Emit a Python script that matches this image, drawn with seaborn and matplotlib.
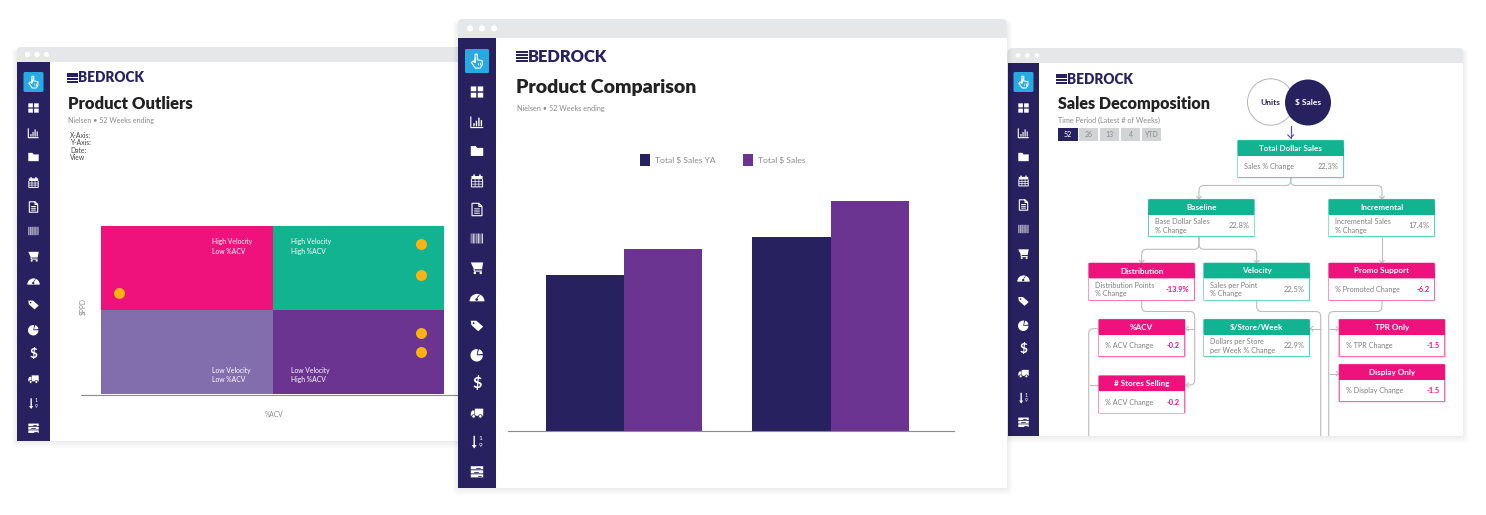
import numpy as np
import pandas as pd
import seaborn as sns
import matplotlib.pyplot as plt
from matplotlib.patches import Rectangle, FancyBboxPatch, Circle, Wedge, Polygon, PathPatch
from matplotlib.path import Path

# scatter of the outliers window
outlier_acv = [5.2, 93.4, 93.4, 93.4, 93.4]
outlier_ppd = [60, 89.3, 70.8, 36.3, 25]
quad_names = ['High Velocity\nLow %ACV', 'High Velocity\nHigh %ACV', 'Low Velocity\nLow %ACV', 'Low Velocity\nHigh %ACV']

# bars of the comparison window
products = ['A', 'B']
sales_ya = [156, 194]
sales_now = [182, 230]
series_names = ['Total $ Sales YA', 'Total $ Sales']

# decomposition tree
tree_heads = ['Total Dollar Sales', 'Baseline', 'Incremental', 'Distribution', 'Velocity', 'Promo Support',
              '%ACV', '$/Store/Week', 'TPR Only', '# Stores Selling', 'Display Only']
tree_labels = ['Sales % Change', 'Base Dollar Sales\n% Change', 'Incremental Sales\n% Change',
               'Distribution Points\n% Change', 'Sales per Point\n% Change', '% Promoted Change',
               '% ACV Change', 'Dollars per Store\nper Week % Change', '% TPR Change', '% ACV Change', '% Display Change']
tree_values = ['22.3%', '22.8%', '17.4%', '-13.9%', '22.5%', '-6.2', '-0.2', '22.9%', '-1.5', '-0.2', '-1.5']
week_buttons = ['52', '26', '13', '4', 'YTD']
filter_names = ['X-Axis:', 'Y-Axis:', 'Date:', 'View']

NAVY = '#27225F'
SKY = '#27AAE1'
PINK = '#F0127C'
TEAL = '#12B391'
LILAC = '#836EAD'
PURPLE = '#6B3491'
ORANGE = '#FFB313'
GREY = '#8a8a8a'
LINE = '#bcbcbc'
W, H = 1486, 515

sns.set_theme(style='white')
plt.rcParams['font.family'] = ['Lato', 'DejaVu Sans']

fig = plt.figure(figsize=(W / 100, H / 100), dpi=100, facecolor='white')
bg = fig.add_axes([0, 0, 1, 1])
bg.set_xlim(0, W)
bg.set_ylim(H, 0)
bg.axis('off')


def rect(x0, y0, x1, y1, c, z=1, **kw):
    bg.add_patch(Rectangle((x0, y0), x1 - x0, y1 - y0, fc=c, ec='none', zorder=z, **kw))


def rbox(x0, y0, x1, y1, c, z=1, r=4, **kw):
    bg.add_patch(FancyBboxPatch((x0, y0), x1 - x0, y1 - y0, boxstyle='round,pad=0,rounding_size=%s' % r,
                                fc=c, ec='none', zorder=z, **kw))


def icon(kind, cx, cy, s, z):
    # s is half the icon size in pixels
    def box(a, b, c, d):
        rect(cx + a * s, cy + b * s, cx + c * s, cy + d * s, 'white', z, snap=False)

    def ln(xs, ys, lw=0.8):
        bg.plot([cx + v * s for v in xs], [cy + v * s for v in ys], color='white', lw=lw, zorder=z,
                solid_capstyle='butt', snap=False)

    if kind == 'hand':
        ln([-0.3, -0.3, 0.05, 0.05, 0.85, 0.85, 0.5, -0.25, -0.9, -0.65, -0.3, -0.3],
           [0.25, -1.1, -1.1, -0.2, -0.05, 0.6, 1.15, 1.15, 0.25, 0.0, 0.25, -0.5], 0.8)
        for v in [0.25, 0.55]:
            ln([v, v], [0.3, 0.75], 0.5)
    elif kind == 'grid':
        for a, b in [(-1, -0.9), (0.12, -0.9), (-1, 0.12), (0.12, 0.12)]:
            box(a, b, a + 0.88, b + 0.78)
    elif kind == 'chart':
        ln([-1, -1, 1], [-0.9, 0.9, 0.9])
        for a, t in [(-0.6, 0.2), (-0.2, -0.2), (0.2, -0.7), (0.6, -0.3)]:
            box(a, t, a + 0.22, 0.7)
    elif kind == 'folder':
        bg.add_patch(Polygon([(cx - s, cy - 0.8 * s), (cx - 0.2 * s, cy - 0.8 * s), (cx, cy - 0.5 * s), (cx + s, cy - 0.5 * s),
                              (cx + s, cy + 0.8 * s), (cx - s, cy + 0.8 * s)], fc='white', ec='none', zorder=z))
    elif kind == 'calendar':
        box(-0.9, -0.8, 0.9, -0.3)
        box(-0.6, -1.05, -0.35, -0.6)
        box(0.35, -1.05, 0.6, -0.6)
        ln([-0.9, -0.9, 0.9, 0.9], [-0.3, 0.95, 0.95, -0.3], 0.7)
        for v in [-0.3, 0.3]:
            ln([v, v], [-0.3, 0.95], 0.5)
        for v in [0.1, 0.5]:
            ln([-0.9, 0.9], [v, v], 0.5)
    elif kind == 'doc':
        ln([0.3, -0.8, -0.8, 0.8, 0.8, 0.3, 0.3, 0.8], [-1, -1, 1, 1, -0.5, -1, -0.5, -0.5], 0.8)
        for v in [-0.1, 0.25, 0.6]:
            ln([-0.45, 0.45], [v, v], 0.7)
    elif kind == 'barcode':
        for a, wd in zip(np.arange(-1, 1, 0.2), [.1, .06, .14, .06, .12, .06, .14, .06, .1, .14]):
            box(a, -0.8, a + wd, 0.8)
    elif kind == 'cart':
        bg.add_patch(Polygon([(cx - s, cy - 0.9 * s), (cx + s, cy - 0.9 * s), (cx + 0.8 * s, cy + 0.2 * s), (cx - 0.5 * s, cy + 0.2 * s)],
                             fc='white', ec='none', zorder=z))
        ln([-0.5, -0.4, 0.8], [0.2, 0.5, 0.5])
        for a in [-0.35, 0.6]:
            bg.add_patch(Circle((cx + a * s, cy + 0.8 * s), 0.2 * s, fc='white', ec='none', zorder=z))
    elif kind == 'gauge':
        bg.add_patch(Wedge((cx, cy + 0.7 * s), 1.2 * s, 180, 360, fc='white', ec='none', zorder=z))
        bg.add_patch(Rectangle((cx - 0.05 * s, cy + 0.1 * s), 0.6 * s, 0.14 * s, angle=-50, fc=NAVY, ec='none', zorder=z + 0.1))
        bg.add_patch(Circle((cx - 0.05 * s, cy + 0.4 * s), 0.22 * s, fc=NAVY, ec='none', zorder=z + 0.1))
    elif kind == 'tags':
        bg.add_patch(Polygon([(cx - s, cy - 0.85 * s), (cx - 0.1 * s, cy - 0.85 * s), (cx + s, cy + 0.1 * s), (cx + 0.2 * s, cy + 0.85 * s),
                              (cx - 0.9 * s, cy - 0.15 * s)], fc='white', ec='none', zorder=z))
        bg.add_patch(Circle((cx - 0.55 * s, cy - 0.45 * s), 0.15 * s, fc=NAVY, ec='none', zorder=z + 0.1))
    elif kind == 'pie':
        bg.add_patch(Wedge((cx - 0.05 * s, cy + 0.05 * s), s, 0, 280, fc='white', ec='none', zorder=z))
        bg.add_patch(Wedge((cx + 0.1 * s, cy - 0.1 * s), s * 0.85, 285, 355, fc='white', ec='none', zorder=z))
    elif kind == 'dollar':
        bg.text(cx, cy, '$', color='white', fontsize=s * 1.9, fontweight='bold', ha='center', va='center', zorder=z)
    elif kind == 'truck':
        box(-0.35, -0.7, 1, 0.45)
        bg.add_patch(Polygon([(cx - 0.42 * s, cy - 0.4 * s), (cx - 0.8 * s, cy - 0.4 * s), (cx - s, cy), (cx - s, cy + 0.45 * s), (cx - 0.42 * s, cy + 0.45 * s)],
                             fc='white', ec='none', zorder=z))
        for a in [-0.55, 0.55]:
            bg.add_patch(Circle((cx + a * s, cy + 0.55 * s), 0.28 * s, fc='white', ec=NAVY, lw=0.5, zorder=z + 0.1))
    elif kind == 'sort':
        ln([-0.45, -0.45], [-1, 0.8], 1.0)
        bg.add_patch(Polygon([(cx - 0.85 * s, cy + 0.5 * s), (cx - 0.05 * s, cy + 0.5 * s), (cx - 0.45 * s, cy + 1.05 * s)], fc='white', ec='none', zorder=z))
        bg.text(cx + 0.5 * s, cy - 0.5 * s, '1', color='white', fontsize=s * 0.75, ha='center', va='center', zorder=z)
        bg.text(cx + 0.5 * s, cy + 0.5 * s, '9', color='white', fontsize=s * 0.75, ha='center', va='center', zorder=z)
    elif kind == 'table':
        for t in [-0.85, -0.2, 0.45]:
            box(-1, t, 1, t + 0.5)
        bg.plot([cx - 0.1 * s, cx + 0.5 * s], [cy - 0.6 * s, cy - 0.6 * s], color=NAVY, lw=0.6, zorder=z + 0.1)
        bg.plot([cx - 0.5 * s, cx + 0.2 * s], [cy + 0.05 * s, cy + 0.05 * s], color=NAVY, lw=0.6, zorder=z + 0.1)
        bg.plot([cx + 0.1 * s, cx + 0.7 * s], [cy + 0.7 * s, cy + 0.7 * s], color=NAVY, lw=0.6, zorder=z + 0.1)


ICONS = ['hand', 'grid', 'chart', 'folder', 'calendar', 'doc', 'barcode', 'cart', 'gauge', 'tags', 'pie', 'dollar',
         'truck', 'sort', 'table']


def window(x0, y0, x1, y1, bar_h, side_w, icon_x, icon_ys, box_half, s, z, dots):
    for k in range(1, 10):
        rbox(x0 - k * 0.6, y0 + 4 - k * 0.3, x1 + k * 0.6, y1 + k * 0.8, '#000000', z, r=5, alpha=0.008)
    rbox(x0, y0, x1, y0 + bar_h + 6, '#E6E7E8', z + 0.1)
    rect(x0, y0 + bar_h, x1, y1, 'white', z + 0.2)
    rect(x0, y0 + bar_h, x0 + side_w, y1, NAVY, z + 0.3)
    for k in range(3):
        bg.add_patch(Circle((dots[0] + k * dots[1], y0 + bar_h / 2), dots[2], fc='white', ec='none', zorder=z + 0.3))
    rbox(icon_x - box_half, icon_ys[0] - box_half, icon_x + box_half, icon_ys[0] + box_half, SKY, z + 0.4, r=1.5)
    for kind, iy in zip(ICONS, icon_ys):
        icon(kind, icon_x, iy, s, z + 0.5)


def logo(x, y, stripe_w, h, size, z):
    for k in range(4):
        rect(x, y - h / 2 + k * h / 4, x + stripe_w, y - h / 2 + k * h / 4 + h / 4 * 0.72, NAVY, z)
    bg.text(x + stripe_w + 0.5, y, 'BEDROCK', color=NAVY, fontsize=size, fontweight='heavy', ha='left', va='center', zorder=z)


def text(x, y, s, size, c=GREY, z=5, **kw):
    kw.setdefault('ha', 'left')
    kw.setdefault('va', 'center')
    bg.text(x, y, s, fontsize=size, color=c, zorder=z, **kw)


def round_line(pts, z=4.5, c=LINE, r=5):
    verts = [pts[0]]
    codes = [Path.MOVETO]
    for k in range(1, len(pts) - 1):
        p = np.array(pts[k], float)
        a = np.array(pts[k - 1], float)
        b = np.array(pts[k + 1], float)
        u = (a - p) / np.linalg.norm(a - p)
        v = (b - p) / np.linalg.norm(b - p)
        verts += [tuple(p + u * r), tuple(p), tuple(p + v * r)]
        codes += [Path.LINETO, Path.CURVE3, Path.CURVE3]
    verts.append(pts[-1])
    codes.append(Path.LINETO)
    bg.add_patch(PathPatch(Path(verts, codes), fc='none', ec=c, lw=0.8, zorder=z))


def chevron(x, y, d, z=4.5, c=LINE, s=2.4):
    dx, dy = {'d': (0, 1), 'l': (-1, 0), 'r': (1, 0)}[d]
    px, py = -dy, dx
    for sgn in (-1, 1):
        bg.plot([x, x - dx * s + sgn * px * s], [y, y - dy * s + sgn * py * s], color=c, lw=0.8, zorder=z)


# ---- windows, back to front
left_rows = [82, 108, 133, 157, 182.5, 207, 231, 256.5, 281, 305, 330, 354, 379, 403.5, 428]
window(17, 47, 480, 441, 15, 33, 33.5, left_rows, 10, 5.2, 1, (27.5, 9.5, 2.6))
right_rows = [82, 108, 133, 157, 181, 205, 229, 254, 278, 301.5, 325.5, 349, 373.5, 398, 422]
window(1008, 48, 1463, 436, 15, 31, 1023.5, right_rows, 10, 5.2, 1, (1018, 9.5, 2.4))
center_rows = [61, 92, 122, 151, 181, 209.5, 238.5, 268, 297, 326, 355, 384, 413, 442, 471.5]
window(458, 19, 1007, 488, 19, 38, 477, center_rows, 12, 6.2, 3, (470, 12, 3))

# ---- left window texts
logo(67, 78, 10.5, 10.5, 9.8, 2)
text(68.5, 104, 'Product Outliers', 12, '#222222', z=2, fontweight='heavy')
text(68.5, 120.5, 'Nielsen \u2022 52 Weeks ending', 5.1, z=2)
for name, y in zip(filter_names, [135.5, 142.8, 150.2, 157.6]):
    text(70, y, name, 4.9, '#444444', z=2)
text(82.5, 307, '$PPD', 4.8, z=2, rotation=90, ha='center')
text(274.5, 414.5, '%ACV', 4.8, z=2, ha='center')
bg.plot([81, 470], [394.6, 394.6], color='#8c8c8c', lw=0.8, zorder=2)

# quadrants and dots
qax = fig.add_axes([101 / W, 1 - 394 / H, 343 / W, 168 / H], zorder=2)
qax.set_xlim(0, 100)
qax.set_ylim(0, 100)
qax.axis('off')
for (a, b, c) in [(0, 50, PINK), (50, 50, TEAL), (0, 0, LILAC), (50, 0, PURPLE)]:
    qax.add_patch(Rectangle((a, b), 50, 50, fc=c, ec='none', zorder=0))
for name, (a, b) in zip(quad_names, [(32.5, 92.8), (55.4, 92.8), (32.5, 16.2), (55.4, 16.2)]):
    qax.text(a, b, name, color='white', fontsize=4.9, va='top', ha='left', linespacing=1.45, zorder=2)
sns.scatterplot(x=outlier_acv, y=outlier_ppd, ax=qax, color=ORANGE, s=62, linewidth=0, zorder=3, legend=False, clip_on=False)

# ---- center window
logo(516, 57, 11.5, 12, 11.8, 4)
text(516, 87.5, 'Product Comparison', 14, '#222222', z=4, fontweight='heavy')
text(517, 108, 'Nielsen \u2022 52 Weeks ending', 5.2, z=4)

bar_df = pd.DataFrame({'product': products * 2,
                       'series': [series_names[0]] * 2 + [series_names[1]] * 2,
                       'sales': sales_ya + sales_now})
bax = fig.add_axes([508 / W, 1 - 431 / H, 446 / W, 230 / H], zorder=4)
bax.patch.set_alpha(0)
sns.barplot(data=bar_df, x='product', y='sales', hue='series', palette=[NAVY, PURPLE], width=0.757, gap=0,
            saturation=1, ax=bax, errorbar=None, linewidth=0)
bax.set_xlim(-0.5617, 1.598)
bax.set_ylim(0, 230)
bax.set_xlabel('')
bax.set_ylabel('')
bax.set_xticks([])
bax.set_yticks([])
sns.despine(ax=bax, left=True)
bax.spines['bottom'].set_color('#8c8c8c')
bax.spines['bottom'].set_linewidth(0.8)
sns.move_legend(bax, 'center left', bbox_to_anchor=((639.5 - 508) / 446, (431 - 160) / 230), ncol=2, frameon=False,
                title=None, fontsize=6.1, labelcolor=GREY, handlelength=1.2, handleheight=1.7, handletextpad=0.6,
                columnspacing=3.3, borderpad=0, borderaxespad=0)

# ---- right window
logo(1056, 79, 10.5, 10.5, 9.8, 2)
text(1058, 104.5, 'Sales Decomposition', 11.6, '#222222', z=2, fontweight='heavy')
text(1058, 120.5, 'Time Period (Latest # of Weeks)', 5.2, z=2)
for k, (name, a, b) in enumerate(zip(week_buttons, [1057.7, 1079, 1099.7, 1120.7, 1141.7], [1077.7, 1098.3, 1119.3, 1140.3, 1161.3])):
    rect(a, 128.3, b, 141, NAVY if k == 0 else '#D1D3D4', 2)
    text((a + b) / 2, 134.8, name, 5, 'white' if k == 0 else GREY, z=2.5, ha='center')

bg.add_patch(Circle((1270.7, 102), 23.2, fc='white', ec='#b5b5b5', lw=0.7, zorder=2))
bg.add_patch(Circle((1308, 102.5), 23, fc=NAVY, ec='none', zorder=2.1))
text(1270.5, 102.5, 'Units', 6, NAVY, z=2.5, ha='center', fontweight='bold')
text(1308, 102.5, '$ Sales', 6, 'white', z=2.5, ha='center', fontweight='bold')
bg.plot([1290.7, 1290.7], [125.5, 137.5], color='#5a5688', lw=0.9, zorder=2)
chevron(1290.7, 137.8, 'd', z=2, c='#5a5688', s=3)

# box positions follow the order of tree_heads
tree_boxes = [(1237.7, 140.3, 1343.7), (1148.3, 199.3, 1254.3), (1328.7, 199.3, 1434.7),
              (1088.7, 263, 1194.7), (1203.7, 263, 1309.7), (1328.7, 263, 1434.7),
              (1098.7, 319.3, 1185), (1203.7, 319.3, 1309.7), (1339, 319.3, 1445),
              (1098.7, 375.7, 1185), (1339, 364.3, 1445)]
soft = {TEAL: '#5FD3BB', PINK: '#F76BAE'}
for head, lab, val, (x0, y0, x1) in zip(tree_heads, tree_labels, tree_values, tree_boxes):
    c = PINK if val.startswith('-') else TEAL
    y1 = y0 + 37.5
    rbox(x0 - 0.4, y0 - 0.4, x1 + 0.4, y1 + 0.4, soft[c], 3, r=1)
    rect(x0 + 0.6, y0 + 15, x1 - 0.6, y1 - 0.7, 'white', 3.1)
    rbox(x0, y0, x1, y0 + 15.4, c, 3.2, r=1.5)
    rect(x0, y0 + 8, x1, y0 + 15.4, c, 3.2)
    text((x0 + x1) / 2, y0 + 8, head, 5.9, 'white', z=3.3, ha='center', fontweight='bold')
    text(x0 + 6.5, y0 + 26.5, lab, 5.2, '#808080', z=3.3, linespacing=1.25)
    text(x1 - 5, y0 + 26.5, val, 5.4, c if c == PINK else '#808080', z=3.3, ha='right', fontweight='bold' if c == PINK else 'normal')

# connectors
round_line([(1290.7, 177.7), (1290.7, 185.5), (1199, 185.5), (1199, 199)], z=2)
round_line([(1290.7, 177.7), (1290.7, 185.5), (1382, 185.5), (1382, 199)], z=2)
round_line([(1199, 236.7), (1199, 249.3), (1141.7, 249.3), (1141.7, 263)], z=2)
round_line([(1199, 236.7), (1199, 249.3), (1256.7, 249.3), (1256.7, 263)], z=2)
round_line([(1382, 236.7), (1382, 263)], z=2)
round_line([(1141.7, 300), (1141.7, 311.5), (1194.7, 311.5), (1194.7, 385), (1185, 385)], z=2)
round_line([(1194.7, 328.7), (1186, 328.7)], z=2)
round_line([(1098.7, 328.7), (1088.7, 328.7), (1088.7, 436)], z=2)
round_line([(1098.7, 385.2), (1088.7, 385.2)], z=2)
round_line([(1256.7, 300), (1256.7, 311.5), (1320.7, 311.5), (1320.7, 436)], z=2)
round_line([(1320.7, 328.7), (1310.5, 328.7)], z=2)
round_line([(1382, 300), (1382, 311.5), (1328.7, 311.5), (1328.7, 436)], z=2)
round_line([(1328.7, 328.7), (1338.5, 328.7)], z=2)
round_line([(1328.7, 373.5), (1338.5, 373.5)], z=2)
for x, y, d in [(1199, 198.8, 'd'), (1382, 198.8, 'd'), (1141.7, 262.8, 'd'), (1256.7, 262.8, 'd'), (1382, 262.8, 'd'),
                (1186, 328.7, 'l'), (1186, 385, 'l'), (1310.5, 328.7, 'l'), (1338.5, 328.7, 'r'), (1338.5, 373.5, 'r')]:
    chevron(x, y, d, z=2)

fig.savefig('out.png', dpi=100)
